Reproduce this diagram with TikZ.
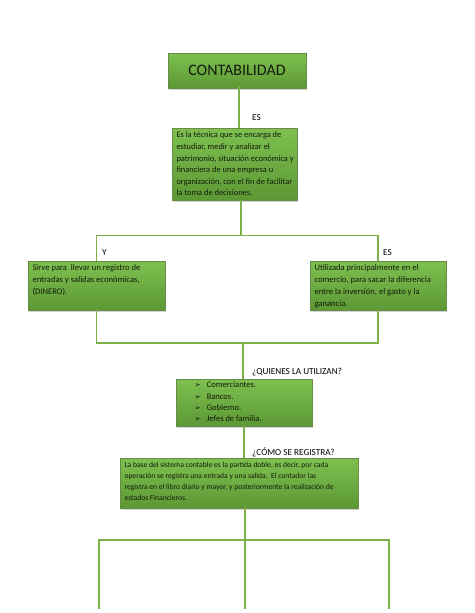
\documentclass[tikz,border=0pt]{standalone}
\usepackage{fontspec}
\setmainfont{Carlito}
\newfontfamily\dvsans{DejaVu Sans}
\usetikzlibrary{shadows}
\definecolor{boxtop}{RGB}{126,192,80}
\definecolor{boxbot}{RGB}{92,152,52}
\definecolor{boxline}{RGB}{104,140,72}
\definecolor{linkgreen}{RGB}{128,176,76}
\definecolor{boxtext}{RGB}{18,28,12}
\newcommand{\gtext}[3]{\parbox[c][#2][t]{#1}{\raggedright #3}}
\newcommand{\arrbul}{{\dvsans\fontsize{7.5}{7.5}\selectfont ➢}}
\tikzset{
  gbox/.style={draw=boxline, line width=0.6pt, top color=boxtop, bottom color=boxbot,
    drop shadow={opacity=0.35, shadow xshift=1.2pt, shadow yshift=-1.5pt},
    inner xsep=4.5pt, inner ysep=4pt, text=boxtext},
  link/.style={draw=linkgreen, line width=1.3pt},
  lbl/.style={font=\fontsize{9.2}{11}\selectfont, text=black, inner sep=0pt, anchor=west}
}
\begin{document}
\begin{tikzpicture}[x=1pt,y=-1pt]
\useasboundingbox (0,0) rectangle (474,613);
% boxes
\node[gbox, inner sep=0pt, minimum width=138pt, minimum height=35pt,
  font=\fontsize{16}{18}\selectfont] (title) at (237,70.5) {CONTABILIDAD};
\node[gbox, inner xsep=3pt, font=\fontsize{8.4}{11.6}\selectfont] (def) at (234.5,164)
  {\gtext{119pt}{64pt}{\hspace*{1.5pt}Es la técnica que se encarga de\\ \hspace*{1.5pt}estudiar, medir y analizar el\\ \hspace*{1.5pt}patrimonio, situación económica y\\ \hspace*{1.5pt}financiera de una empresa u\\ \hspace*{1.5pt}organización, con el fin de facilitar\\ \hspace*{1.5pt}la toma de decisiones.}};
\node[gbox, font=\fontsize{8.6}{11.8}\selectfont] (left) at (96.5,285.5)
  {\gtext{128pt}{41pt}{Sirve para\ \ llevar un registro de\\ entradas y salidas económicas,\\ (DINERO).}};
\node[gbox, font=\fontsize{8.6}{11.8}\selectfont] (right) at (378,285.5)
  {\gtext{127pt}{41pt}{Utilizada principalmente en el\\ comercio, para sacar la diferencia\\ entre la inversión, el gasto y la\\ ganancia.}};
\node[gbox, inner ysep=3pt, font=\fontsize{8.5}{11.3}\selectfont] (quienes) at (244,402.5)
  {\gtext{127pt}{41pt}{\hspace*{14pt}\arrbul\hspace{6pt}Comerciantes.\\ \hspace*{14pt}\arrbul\hspace{6pt}Bancos.\\ \hspace*{14pt}\arrbul\hspace{6pt}Gobierno.\\ \hspace*{14pt}\arrbul\hspace{6pt}Jefes de familia.}};
\node[gbox, font=\fontsize{7.6}{11}\selectfont] (como) at (239,483)
  {\gtext{229pt}{42pt}{La base del sistema contable es la partida doble, es decir, por cada\\ operación se registra una entrada y una salida.\ \ El contador las\\ registra en el libro diario y mayor, y posteriormente la realización de\\ estados Financieros.}};
% spine coordinates
\coordinate (s1) at (239,0);
\coordinate (s2) at (241,0);
\coordinate (s3) at (243,0);
\coordinate (s4) at (244,0);
\coordinate (s5) at (245,0);
\coordinate (fT) at (0,235.5);
\coordinate (fB) at (0,343);
\coordinate (hb) at (0,540);
\coordinate (lb) at (0,609);
\coordinate (bl) at (99,0);
\coordinate (br) at (389,0);
% connectors
\draw[link] ([yshift=2pt]title.south -| s1) -- (def.north -| s1);
\draw[link] (def.south -| s2) -- (s2 |- fT);
\draw[link] (left.north) -- (left.north |- fT) -- (right.north |- fT) -- (right.north);
\draw[link] (left.south) -- (left.south |- fB) -- (right.south |- fB) -- (right.south);
\draw[link] (s3 |- fB) -- (quienes.north -| s3);
\draw[link] (quienes.south -| s4) -- (como.north -| s4);
\draw[link] (como.south -| s5) -- (s5 |- lb);
\draw[link] (bl |- lb) -- (bl |- hb) -- (br |- hb) -- (br |- lb);
% labels
\node[lbl] (les) at (252,118) {ES};
\node[lbl] (ly) at (102,253) {Y};
\node[lbl] (les2) at (383,253) {ES};
\node[lbl] (lq) at (252,372) {¿QUIENES LA UTILIZAN?};
\node[lbl] (lc) at (252,452) {¿CÓMO SE REGISTRA?};
\end{tikzpicture}
\end{document}
